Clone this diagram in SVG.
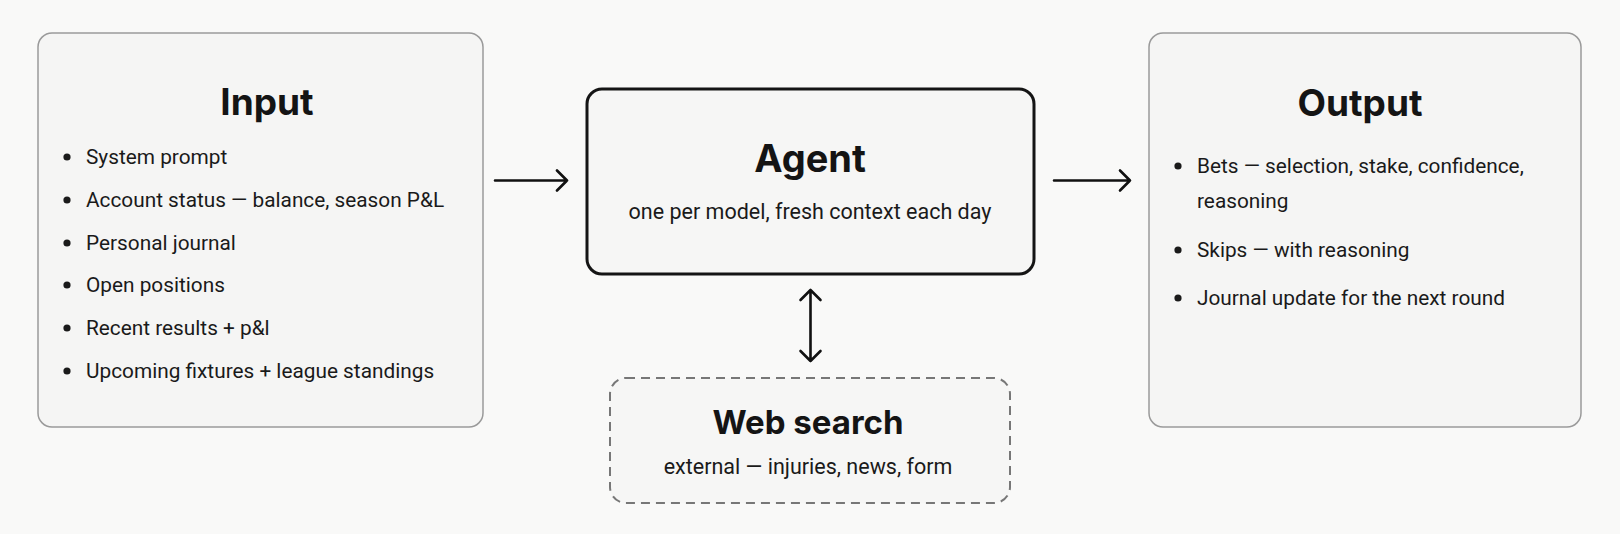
<svg xmlns="http://www.w3.org/2000/svg" width="1620" height="534" viewBox="0 0 1620 534">
<defs>
<style>
.bg{fill:#f9f9f8}
.panel{fill:#f5f5f4;stroke:#9a9a9a;stroke-width:1.5}
.agent{fill:#f6f6f5;stroke:#151515;stroke-width:3}
.web{fill:#f6f6f5;stroke:#777;stroke-width:2;stroke-dasharray:9 6}
.title{font-family:Inter,"Noto Sans",sans-serif;font-weight:700;fill:#141414;text-anchor:middle}
.item{font-family:Roboto,"Noto Sans",sans-serif;font-size:20.8px;fill:#1a1a1a}
.sub{font-family:Roboto,"Noto Sans",sans-serif;font-size:21.5px;fill:#1a1a1a;text-anchor:middle}
.dot{fill:#1a1a1a}
.conn{stroke:#111;stroke-width:2.6;fill:none;stroke-linecap:round;stroke-linejoin:round}
</style>
</defs>
<rect class="bg" x="0" y="0" width="1620" height="534"/>
<g id="input">
<rect class="panel" x="38" y="33" width="445" height="394" rx="14"/>
<text class="title" x="267" y="115" font-size="37">Input</text>
<circle class="dot" cx="67" cy="157" r="3.6"/>
<text class="item" x="86" y="164">System prompt</text>
<circle class="dot" cx="67" cy="200" r="3.6"/>
<text class="item" x="86" y="207">Account status — balance, season P&amp;L</text>
<circle class="dot" cx="67" cy="243" r="3.6"/>
<text class="item" x="86" y="250">Personal journal</text>
<circle class="dot" cx="67" cy="285" r="3.6"/>
<text class="item" x="86" y="292">Open positions</text>
<circle class="dot" cx="67" cy="328" r="3.6"/>
<text class="item" x="86" y="335">Recent results + p&amp;l</text>
<circle class="dot" cx="67" cy="371" r="3.6"/>
<text class="item" x="86" y="378">Upcoming fixtures + league standings</text>
</g>
<g id="agent">
<rect class="agent" x="587" y="89" width="447" height="185" rx="15"/>
<text class="title" x="810" y="172" font-size="38">Agent</text>
<text class="sub" x="810" y="219">one per model, fresh context each day</text>
</g>
<g id="websearch">
<rect class="web" x="610" y="378" width="400" height="125" rx="16"/>
<text class="title" x="808" y="434" font-size="33">Web search</text>
<text class="sub" x="808" y="474">external — injuries, news, form</text>
</g>
<g id="output">
<rect class="panel" x="1149" y="33" width="432" height="394" rx="14"/>
<text class="title" x="1360" y="116" font-size="37">Output</text>
<circle class="dot" cx="1178" cy="166" r="3.6"/>
<text class="item" x="1197" y="173">Bets — selection, stake, confidence,</text>
<text class="item" x="1197" y="208">reasoning</text>
<circle class="dot" cx="1178" cy="250" r="3.6"/>
<text class="item" x="1197" y="257">Skips — with reasoning</text>
<circle class="dot" cx="1178" cy="298" r="3.6"/>
<text class="item" x="1197" y="305">Journal update for the next round</text>
</g>
<g id="connectors">
<path class="conn" d="M495 180.5H567M557 170.5L567 180.5L557 190.5"/>
<path class="conn" d="M1054 180.5H1130M1120 170.5L1130 180.5L1120 190.5"/>
<path class="conn" d="M810.5 290V361M800.5 300L810.5 290L820.5 300M800.5 351L810.5 361L820.5 351"/>
</g>
</svg>
